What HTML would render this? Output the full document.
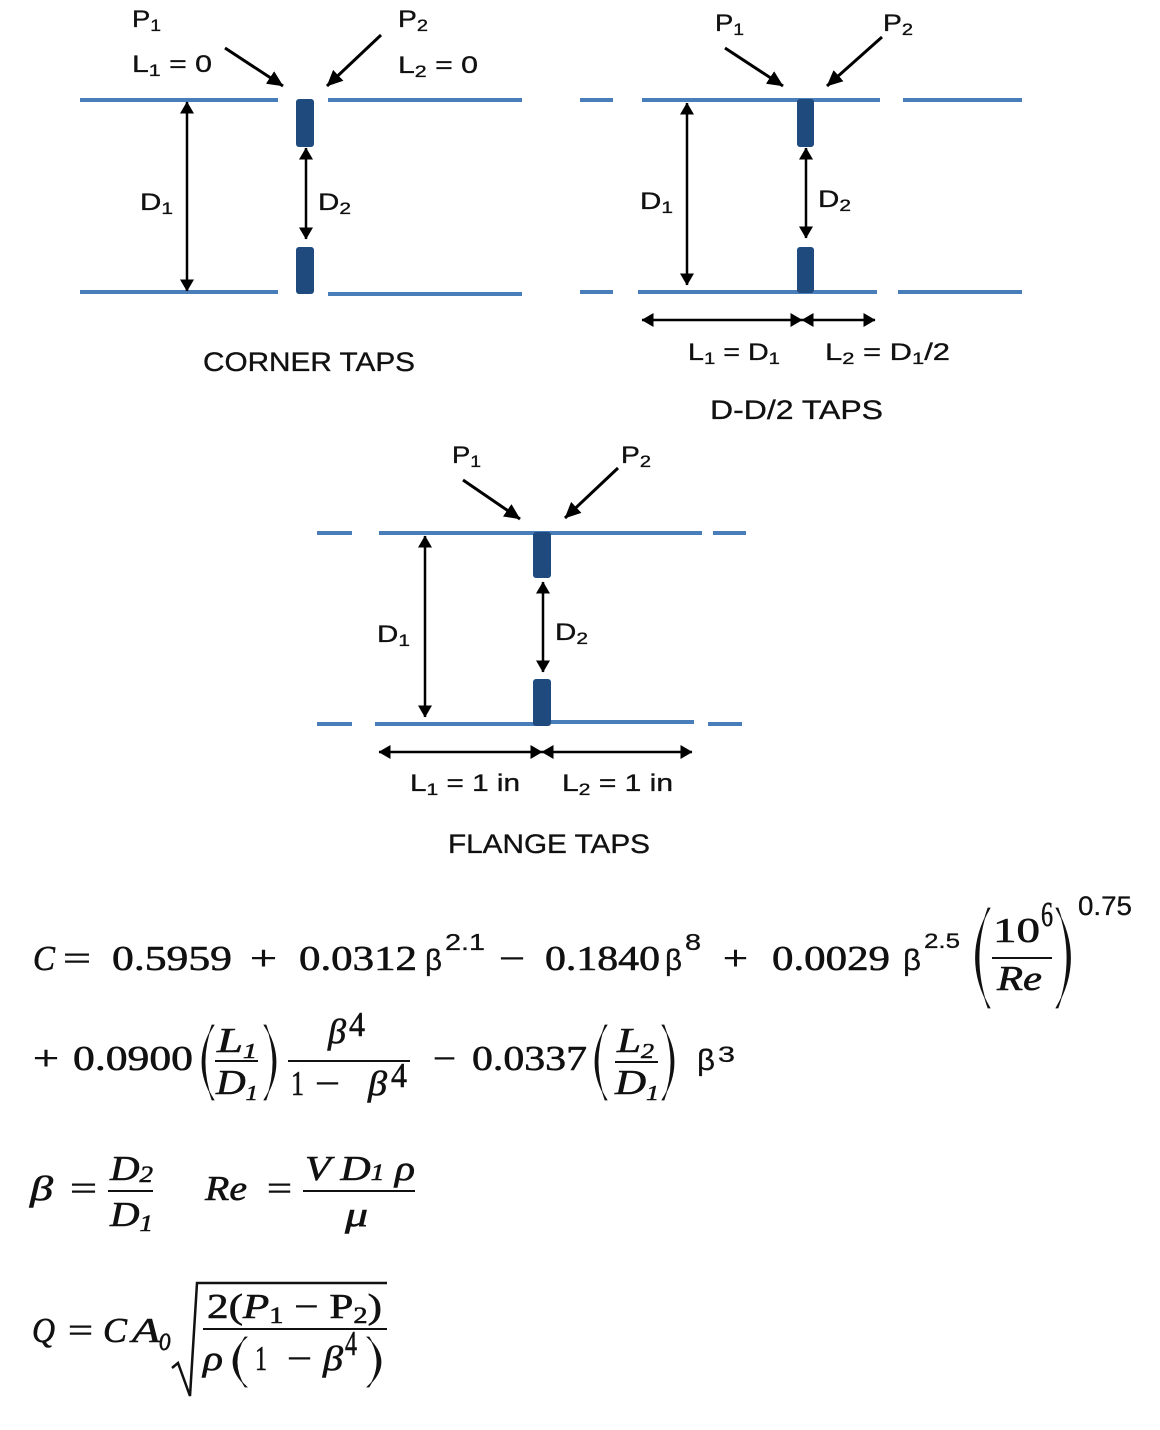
<!DOCTYPE html>
<html>
<head>
<meta charset="utf-8">
<style>
  html,body{margin:0;padding:0;background:#fff;}
  svg{display:block;}
  .lbl{font-family:"Liberation Sans",Arial,sans-serif;font-size:24px;fill:#111;stroke:#111;stroke-width:0.35;}
  .ttl{font-family:"Liberation Sans",Arial,sans-serif;font-size:27px;fill:#111;stroke:#111;stroke-width:0.35;}
  .m{font-family:"Liberation Serif","DejaVu Serif",serif;font-size:35px;fill:#111;stroke:#111;stroke-width:0.6;}
  .mi{font-family:"Liberation Serif","DejaVu Serif",serif;font-size:35px;font-style:italic;fill:#111;stroke:#111;stroke-width:0.6;}
  .s{font-family:"Liberation Sans",Arial,sans-serif;fill:#111;stroke:#111;stroke-width:0.3;}
  .pipe{stroke:#4a7ebb;stroke-width:4;fill:none;}
  .arr{stroke:#000;stroke-width:2.5;fill:none;}
  .darr{stroke:#000;stroke-width:3;fill:none;}
  .orf{fill:#1f4a7e;}
</style>
</head>
<body>
<svg width="1160" height="1430" viewBox="0 0 1160 1430" xmlns="http://www.w3.org/2000/svg">
<defs>
  <marker id="ah" viewBox="0 0 12 14" refX="11.5" refY="7" markerWidth="12" markerHeight="14" markerUnits="userSpaceOnUse" orient="auto-start-reverse">
    <path d="M0,0 L12,7 L0,14 z" fill="#000"/>
  </marker>
  <marker id="ah2" viewBox="0 0 16 15" refX="15.5" refY="7.5" markerWidth="16" markerHeight="15" markerUnits="userSpaceOnUse" orient="auto">
    <path d="M0,0 L16,7.5 L0,15 z" fill="#000"/>
  </marker>
</defs>
<rect width="1160" height="1430" fill="#fff"/>

<!-- ============ CORNER TAPS ============ -->
<line class="pipe" x1="80" y1="100" x2="278" y2="100"/>
<line class="pipe" x1="328" y1="100" x2="522" y2="100"/>
<line class="pipe" x1="80" y1="292" x2="278" y2="292"/>
<line class="pipe" x1="328" y1="294" x2="522" y2="294"/>
<rect class="orf" x="296" y="99" width="18" height="48" rx="3"/>
<rect class="orf" x="296" y="247" width="18" height="47" rx="3"/>
<line class="arr" x1="187" y1="102" x2="187" y2="291" marker-start="url(#ah)" marker-end="url(#ah)"/>
<line class="arr" x1="306" y1="148" x2="306" y2="239" marker-start="url(#ah)" marker-end="url(#ah)"/>
<line class="darr" x1="225" y1="48" x2="283" y2="86" marker-end="url(#ah2)"/>
<line class="darr" x1="381" y1="35" x2="327" y2="86" marker-end="url(#ah2)"/>
<text class="lbl" x="132" y="27" textLength="29" lengthAdjust="spacingAndGlyphs">P<tspan font-size="17" dy="4">1</tspan></text>
<text class="lbl" x="132" y="72" textLength="80" lengthAdjust="spacingAndGlyphs">L<tspan font-size="17" dy="4">1</tspan><tspan dy="-4"> = 0</tspan></text>
<text class="lbl" x="398" y="27" textLength="30" lengthAdjust="spacingAndGlyphs">P<tspan font-size="17" dy="4">2</tspan></text>
<text class="lbl" x="398" y="73" textLength="80" lengthAdjust="spacingAndGlyphs">L<tspan font-size="17" dy="4">2</tspan><tspan dy="-4"> = 0</tspan></text>
<text class="lbl" x="140" y="210" textLength="33" lengthAdjust="spacingAndGlyphs">D<tspan font-size="17" dy="4">1</tspan></text>
<text class="lbl" x="318" y="210" textLength="33" lengthAdjust="spacingAndGlyphs">D<tspan font-size="17" dy="4">2</tspan></text>
<text class="ttl" x="203" y="371" textLength="212" lengthAdjust="spacingAndGlyphs">CORNER TAPS</text>

<!-- ============ D-D/2 TAPS ============ -->
<line class="pipe" x1="580" y1="100" x2="613" y2="100"/>
<line class="pipe" x1="642" y1="100" x2="880" y2="100"/>
<line class="pipe" x1="903" y1="100" x2="1022" y2="100"/>
<line class="pipe" x1="580" y1="292" x2="613" y2="292"/>
<line class="pipe" x1="638" y1="292" x2="877" y2="292"/>
<line class="pipe" x1="898" y1="292" x2="1022" y2="292"/>
<rect class="orf" x="797" y="99" width="17" height="48" rx="3"/>
<rect class="orf" x="797" y="247" width="17" height="46" rx="3"/>
<line class="arr" x1="687" y1="103" x2="687" y2="285" marker-start="url(#ah)" marker-end="url(#ah)"/>
<line class="arr" x1="806" y1="148" x2="806" y2="238" marker-start="url(#ah)" marker-end="url(#ah)"/>
<line class="arr" x1="642" y1="320" x2="802" y2="320" marker-start="url(#ah)" marker-end="url(#ah)"/>
<line class="arr" x1="802" y1="320" x2="875" y2="320" marker-start="url(#ah)" marker-end="url(#ah)"/>
<line class="darr" x1="725" y1="48" x2="783" y2="86" marker-end="url(#ah2)"/>
<line class="darr" x1="882" y1="37" x2="827" y2="86" marker-end="url(#ah2)"/>
<text class="lbl" x="715" y="31" textLength="29" lengthAdjust="spacingAndGlyphs">P<tspan font-size="17" dy="4">1</tspan></text>
<text class="lbl" x="883" y="31" textLength="30" lengthAdjust="spacingAndGlyphs">P<tspan font-size="17" dy="4">2</tspan></text>
<text class="lbl" x="640" y="209" textLength="33" lengthAdjust="spacingAndGlyphs">D<tspan font-size="17" dy="4">1</tspan></text>
<text class="lbl" x="818" y="207" textLength="33" lengthAdjust="spacingAndGlyphs">D<tspan font-size="17" dy="4">2</tspan></text>
<text class="lbl" x="688" y="360" textLength="92" lengthAdjust="spacingAndGlyphs">L<tspan font-size="17" dy="4">1</tspan><tspan dy="-4"> = D</tspan><tspan font-size="17" dy="4">1</tspan></text>
<text class="lbl" x="825" y="360" textLength="125" lengthAdjust="spacingAndGlyphs">L<tspan font-size="17" dy="4">2</tspan><tspan dy="-4"> = D</tspan><tspan font-size="17" dy="4">1</tspan><tspan dy="-4">/2</tspan></text>
<text class="ttl" x="710" y="419" textLength="173" lengthAdjust="spacingAndGlyphs">D-D/2 TAPS</text>

<!-- ============ FLANGE TAPS ============ -->
<line class="pipe" x1="317" y1="533" x2="352" y2="533"/>
<line class="pipe" x1="379" y1="533" x2="702" y2="533"/>
<line class="pipe" x1="713" y1="533" x2="746" y2="533"/>
<line class="pipe" x1="317" y1="724" x2="352" y2="724"/>
<line class="pipe" x1="375" y1="724" x2="540" y2="724"/>
<line class="pipe" x1="545" y1="722" x2="694" y2="722"/>
<line class="pipe" x1="708" y1="724" x2="742" y2="724"/>
<rect class="orf" x="533" y="532" width="18" height="46" rx="3"/>
<rect class="orf" x="533" y="679" width="18" height="47" rx="3"/>
<line class="arr" x1="425" y1="536" x2="425" y2="717" marker-start="url(#ah)" marker-end="url(#ah)"/>
<line class="arr" x1="543" y1="582" x2="543" y2="672" marker-start="url(#ah)" marker-end="url(#ah)"/>
<line class="arr" x1="379" y1="752" x2="542" y2="752" marker-start="url(#ah)" marker-end="url(#ah)"/>
<line class="arr" x1="542" y1="752" x2="692" y2="752" marker-start="url(#ah)" marker-end="url(#ah)"/>
<line class="darr" x1="463" y1="480" x2="520" y2="519" marker-end="url(#ah2)"/>
<line class="darr" x1="618" y1="468" x2="565" y2="518" marker-end="url(#ah2)"/>
<text class="lbl" x="452" y="463" textLength="29" lengthAdjust="spacingAndGlyphs">P<tspan font-size="17" dy="4">1</tspan></text>
<text class="lbl" x="621" y="463" textLength="30" lengthAdjust="spacingAndGlyphs">P<tspan font-size="17" dy="4">2</tspan></text>
<text class="lbl" x="377" y="642" textLength="33" lengthAdjust="spacingAndGlyphs">D<tspan font-size="17" dy="4">1</tspan></text>
<text class="lbl" x="555" y="640" textLength="33" lengthAdjust="spacingAndGlyphs">D<tspan font-size="17" dy="4">2</tspan></text>
<text class="lbl" x="410" y="791" textLength="110" lengthAdjust="spacingAndGlyphs">L<tspan font-size="17" dy="4">1</tspan><tspan dy="-4"> = 1 in</tspan></text>
<text class="lbl" x="562" y="791" textLength="111" lengthAdjust="spacingAndGlyphs">L<tspan font-size="17" dy="4">2</tspan><tspan dy="-4"> = 1 in</tspan></text>
<text class="ttl" x="448" y="853" textLength="202" lengthAdjust="spacingAndGlyphs">FLANGE TAPS</text>

<!-- ============ EQUATION LINE 1 ============ -->
<text class="mi" x="33" y="970" textLength="22" lengthAdjust="spacingAndGlyphs">C</text>
<text class="m" x="63" y="970" textLength="28" lengthAdjust="spacingAndGlyphs">=</text>
<text class="m" x="112" y="970" textLength="120" lengthAdjust="spacingAndGlyphs">0.5959</text>
<text class="m" x="250" y="970" textLength="27" lengthAdjust="spacingAndGlyphs">+</text>
<text class="m" x="299" y="970" textLength="118" lengthAdjust="spacingAndGlyphs">0.0312</text>
<text class="s" x="425" y="970" font-size="30" textLength="17" lengthAdjust="spacingAndGlyphs">β</text>
<text class="s" x="445" y="950" font-size="23" textLength="40" lengthAdjust="spacingAndGlyphs">2.1</text>
<text class="m" x="499" y="970" textLength="26" lengthAdjust="spacingAndGlyphs">−</text>
<text class="m" x="545" y="970" textLength="115" lengthAdjust="spacingAndGlyphs">0.1840</text>
<text class="s" x="665" y="970" font-size="30" textLength="17" lengthAdjust="spacingAndGlyphs">β</text>
<text class="s" x="685" y="950" font-size="23" textLength="16" lengthAdjust="spacingAndGlyphs">8</text>
<text class="m" x="723" y="970" textLength="25" lengthAdjust="spacingAndGlyphs">+</text>
<text class="m" x="772" y="970" textLength="118" lengthAdjust="spacingAndGlyphs">0.0029</text>
<text class="s" x="903" y="970" font-size="30" textLength="18" lengthAdjust="spacingAndGlyphs">β</text>
<text class="s" x="924" y="948" font-size="21" textLength="36" lengthAdjust="spacingAndGlyphs">2.5</text>
<path d="M990,908 Q961,958 990,1008 L988,1008 Q970,958 988,908 Z" fill="#111" stroke="#111" stroke-width="0.8"/>
<text class="m" x="993" y="942" font-size="31" textLength="47" lengthAdjust="spacingAndGlyphs">10</text>
<text class="m" x="1041" y="926" font-size="22" textLength="12" lengthAdjust="spacingAndGlyphs">6</text>
<line x1="992" y1="958" x2="1052" y2="958" stroke="#111" stroke-width="2"/>
<text class="mi" x="997" y="990" font-size="31" textLength="45" lengthAdjust="spacingAndGlyphs">Re</text>
<path d="M1056,908 Q1085,958 1056,1008 L1058,1008 Q1076,958 1058,908 Z" fill="#111" stroke="#111" stroke-width="0.8"/>
<text class="s" x="1078" y="915" font-size="27" textLength="54" lengthAdjust="spacingAndGlyphs">0.75</text>

<!-- ============ EQUATION LINE 2 ============ -->
<text class="m" x="33" y="1070" textLength="26" lengthAdjust="spacingAndGlyphs">+</text>
<text class="m" x="73" y="1070" textLength="120" lengthAdjust="spacingAndGlyphs">0.0900</text>
<path d="M214,1025 Q190,1062 214,1100 L212,1100 Q198,1062 212,1025 Z" fill="#111" stroke="#111" stroke-width="0.8"/>
<text class="mi" x="217" y="1052" font-size="31" textLength="40" lengthAdjust="spacingAndGlyphs">L<tspan font-size="21" dy="6">1</tspan></text>
<line x1="215" y1="1061" x2="258" y2="1061" stroke="#111" stroke-width="2"/>
<text class="mi" x="216" y="1094" font-size="31" textLength="42" lengthAdjust="spacingAndGlyphs">D<tspan font-size="21" dy="6">1</tspan></text>
<path d="M264,1025 Q288,1062 264,1100 L266,1100 Q280,1062 266,1025 Z" fill="#111" stroke="#111" stroke-width="0.8"/>
<line x1="288" y1="1061" x2="410" y2="1061" stroke="#111" stroke-width="2"/>
<text class="mi" x="328" y="1043" font-size="31" textLength="18" lengthAdjust="spacingAndGlyphs">β</text>
<text class="m" x="349" y="1036" font-size="21" textLength="16" lengthAdjust="spacingAndGlyphs">4</text>
<text class="m" x="291" y="1095" font-size="31" textLength="13" lengthAdjust="spacingAndGlyphs">1</text>
<text class="m" x="315" y="1095" font-size="31" textLength="25" lengthAdjust="spacingAndGlyphs">−</text>
<text class="mi" x="368" y="1095" font-size="31" textLength="19" lengthAdjust="spacingAndGlyphs">β</text>
<text class="m" x="391" y="1087" font-size="21" textLength="16" lengthAdjust="spacingAndGlyphs">4</text>
<text class="m" x="433" y="1070" textLength="23" lengthAdjust="spacingAndGlyphs">−</text>
<text class="m" x="472" y="1070" textLength="115" lengthAdjust="spacingAndGlyphs">0.0337</text>
<path d="M607,1025 Q583,1062 607,1100 L605,1100 Q591,1062 605,1025 Z" fill="#111" stroke="#111" stroke-width="0.8"/>
<text class="mi" x="617" y="1052" font-size="31" textLength="37" lengthAdjust="spacingAndGlyphs">L<tspan font-size="21" dy="6">2</tspan></text>
<line x1="615" y1="1062" x2="658" y2="1062" stroke="#111" stroke-width="2"/>
<text class="mi" x="615" y="1094" font-size="31" textLength="44" lengthAdjust="spacingAndGlyphs">D<tspan font-size="21" dy="6">1</tspan></text>
<path d="M662,1025 Q686,1062 662,1100 L664,1100 Q678,1062 664,1025 Z" fill="#111" stroke="#111" stroke-width="0.8"/>
<text class="s" x="697" y="1070" font-size="30" textLength="18" lengthAdjust="spacingAndGlyphs">β</text>
<text class="s" x="718" y="1062" font-size="22" textLength="17" lengthAdjust="spacingAndGlyphs">3</text>

<!-- ============ EQUATION LINE 3 ============ -->
<text class="mi" x="30" y="1200" textLength="23" lengthAdjust="spacingAndGlyphs">β</text>
<text class="m" x="70" y="1200" textLength="27" lengthAdjust="spacingAndGlyphs">=</text>
<text class="mi" x="110" y="1180" font-size="33" textLength="43" lengthAdjust="spacingAndGlyphs">D<tspan font-size="23" dy="2">2</tspan></text>
<line x1="108" y1="1191" x2="153" y2="1191" stroke="#111" stroke-width="2"/>
<text class="mi" x="110" y="1226" font-size="33" textLength="43" lengthAdjust="spacingAndGlyphs">D<tspan font-size="23" dy="5">1</tspan></text>
<text class="mi" x="205" y="1200" textLength="42" lengthAdjust="spacingAndGlyphs">Re</text>
<text class="m" x="267" y="1200" textLength="25" lengthAdjust="spacingAndGlyphs">=</text>
<text class="mi" x="305" y="1180" font-size="33" textLength="110" lengthAdjust="spacingAndGlyphs">V D<tspan font-size="23" dy="0">1</tspan> ρ</text>
<line x1="303" y1="1191" x2="415" y2="1191" stroke="#111" stroke-width="2"/>
<text class="mi" x="345" y="1226" font-size="33" textLength="23" lengthAdjust="spacingAndGlyphs">μ</text>

<!-- ============ EQUATION LINE 4 ============ -->
<text class="mi" x="32" y="1342" textLength="23" lengthAdjust="spacingAndGlyphs">Q</text>
<text class="m" x="68" y="1342" textLength="25" lengthAdjust="spacingAndGlyphs">=</text>
<text class="mi" x="103" y="1342" textLength="24" lengthAdjust="spacingAndGlyphs">C</text>
<text class="mi" x="132" y="1342" textLength="28" lengthAdjust="spacingAndGlyphs">A</text>
<text class="mi" x="159" y="1350" font-size="24" textLength="12" lengthAdjust="spacingAndGlyphs">o</text>
<path d="M172,1368 L178,1363 L190,1396 L197,1283 L387,1283" fill="none" stroke="#111" stroke-width="2.5" stroke-linejoin="miter"/>
<text class="m" x="207" y="1318" font-size="33" textLength="175" lengthAdjust="spacingAndGlyphs">2(<tspan font-style="italic">P</tspan><tspan font-size="23" dy="5">1</tspan><tspan dy="-5"> − P</tspan><tspan font-size="23" dy="5">2</tspan><tspan dy="-5">)</tspan></text>
<line x1="203" y1="1329" x2="387" y2="1329" stroke="#111" stroke-width="2"/>
<text class="mi" x="203" y="1370" font-size="33" textLength="20" lengthAdjust="spacingAndGlyphs">ρ</text>
<path d="M247,1337 Q219,1362 247,1387 L245,1387 Q229,1362 245,1337 Z" fill="#111" stroke="#111" stroke-width="0.8"/>
<text class="m" x="255" y="1370" font-size="33" textLength="12" lengthAdjust="spacingAndGlyphs">1</text>
<text class="m" x="287" y="1370" font-size="33" textLength="25" lengthAdjust="spacingAndGlyphs">−</text>
<text class="mi" x="323" y="1370" font-size="33" textLength="20" lengthAdjust="spacingAndGlyphs">β</text>
<text class="m" x="345" y="1355" font-size="22" textLength="12" lengthAdjust="spacingAndGlyphs">4</text>
<path d="M367,1337 Q395,1362 367,1387 L369,1387 Q385,1362 369,1337 Z" fill="#111" stroke="#111" stroke-width="0.8"/>
</svg>
</body>
</html>
